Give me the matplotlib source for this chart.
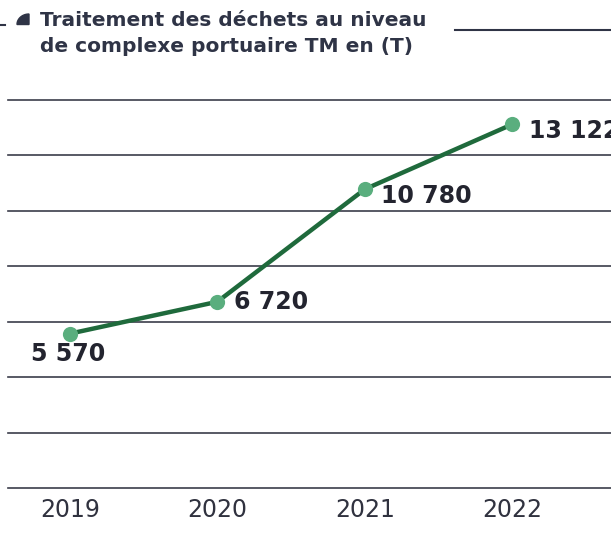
import matplotlib
matplotlib.use("Agg")
import numpy as np
from matplotlib import pyplot as plt
from matplotlib.patches import Polygon
from matplotlib.lines import Line2D

# Waste treated at the TM port complex (tonnes)
years = [2019, 2020, 2021, 2022]
tonnes = [5570, 6720, 10780, 13122]
labels = ["5 570", "6 720", "10 780", "13 122"]
grid_values = [0, 2000, 4000, 6000, 8000, 10000, 12000, 14000]

W, H = 611, 559
navy = "#23242f"
title_col = "#2f3446"
line_green = "#1f6a3c"
dot_green = "#5aae7e"

fig = plt.figure(figsize=(W / 100, H / 100), dpi=100)

# axes placed in pixel units
def px_rect(x0, y0, x1, y1):
    return [x0 / W, 1 - y1 / H, (x1 - x0) / W, (y1 - y0) / H]

def px(x, y):
    return (x / W, 1 - y / H)

ax = fig.add_axes(px_rect(8, 100, 611, 488))
ax.set_xlim(2018.58, 2022.67)
ax.set_ylim(0, 14000)

for v in grid_values:
    ax.axhline(v, color="#3b3d4a", lw=1.2, zorder=1, clip_on=False)

ax.plot(years, tonnes, color=line_green, lw=3.2, zorder=2,
        solid_capstyle="round")
ax.scatter(years, tonnes, s=120, color=dot_green, zorder=3, linewidths=0)

# value labels
offsets = [(-1, -15, "center", "center"),
           (12, 0, "left", "center"),
           (12, -5, "left", "center"),
           (12, -5, "left", "center")]
for x, y, lab, (dx, dy, ha, va) in zip(years, tonnes, labels, offsets):
    ax.annotate(lab, (x, y), xytext=(dx, dy), textcoords="offset points",
                ha=ha, va=va, fontsize=17, fontweight="bold", color=navy,
                family="DejaVu Sans")

ax.set_xticks(years)
ax.set_xticklabels([str(y) for y in years], fontsize=17, color="#30323f",
                   family="DejaVu Sans")
ax.tick_params(axis="x", length=0, pad=7)
ax.set_yticks([])
for s in ax.spines.values():
    s.set_visible(False)
ax.patch.set_alpha(0)

# title block
fig.text(*px(40, 20), "Traitement des déchets au niveau",
         fontsize=14.5, fontweight="bold", color=title_col,
         family="DejaVu Sans", va="center", ha="left")
fig.text(*px(40, 47), "de complexe portuaire TM en (T)",
         fontsize=14.5, fontweight="bold", color=title_col,
         family="DejaVu Sans", va="center", ha="left")

# quarter-round marker before the title
t = np.linspace(0, np.pi / 2, 16)
arc = [(29 - 12 * np.cos(a), 24.5 - 10.5 * np.sin(a)) for a in t]
shape = arc + [(29, 24.5)]
fig.patches.append(Polygon([px(x, y) for x, y in shape], closed=True,
                           transform=fig.transFigure, color=title_col))

fig.add_artist(Line2D([0, 5 / W], [1 - 25 / H] * 2, color=title_col, lw=1.5))
fig.add_artist(Line2D([455 / W, 1], [1 - 30 / H] * 2, color=title_col, lw=1.5))

fig.savefig("out.png", dpi=100)
